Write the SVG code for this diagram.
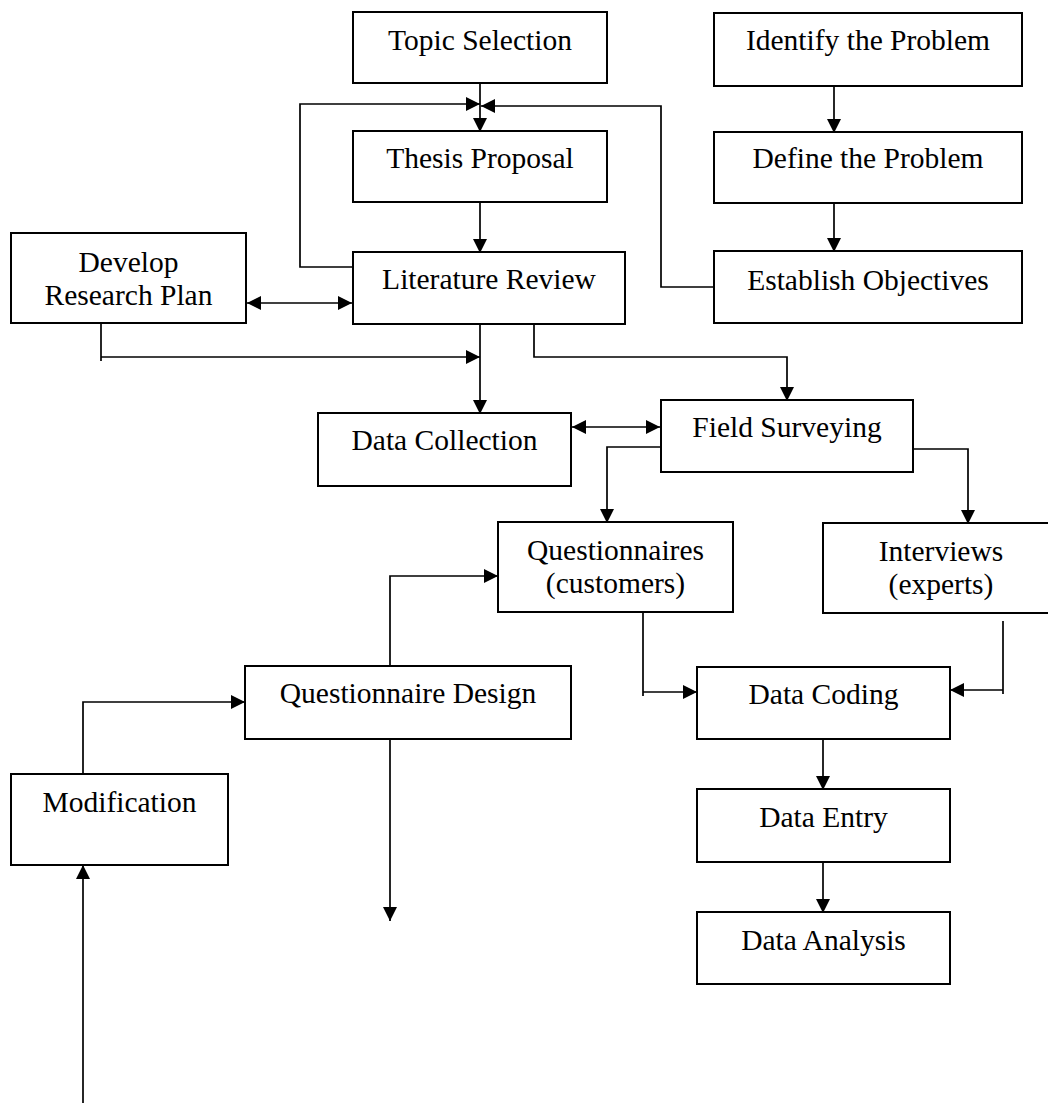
<svg xmlns="http://www.w3.org/2000/svg" width="1048" height="1103" viewBox="0 0 1048 1103">
  <defs>
    <marker id="arrow" markerUnits="userSpaceOnUse" markerWidth="15" markerHeight="14" refX="14" refY="7" orient="auto-start-reverse">
      <path d="M0,0 L14,7 L0,14 z" fill="#000"/>
    </marker>
    <style>
      .box rect { fill: #fff; stroke: #000; stroke-width: 2; }
      .box text { font-family: "Liberation Serif", "Times New Roman", serif; font-size: 29.5px; fill: #000; text-anchor: middle; }
      #connectors path { fill: none; stroke: #000; stroke-width: 1.7; }
      .arr { marker-end: url(#arrow); }
      .dbl { marker-start: url(#arrow); marker-end: url(#arrow); }
    </style>
  </defs>
  <rect width="1048" height="1103" fill="#fff"/>

  <!-- connectors -->
  <g id="connectors">
    <!-- Topic Selection -> Thesis Proposal -->
    <path class="arr" d="M480,83 V132"/>
    <!-- Literature Review feedback -> Thesis Proposal -->
    <path class="arr" d="M353,267 H300 V104 H480"/>
    <!-- Establish Objectives -> Thesis Proposal -->
    <path class="arr" d="M714,287 H661 V106 H481"/>
    <!-- Thesis Proposal -> Literature Review -->
    <path class="arr" d="M480,202 V253"/>
    <!-- Identify -> Define -> Establish -->
    <path class="arr" d="M834,86 V133"/>
    <path class="arr" d="M834,201 V252"/>
    <!-- Develop Research Plan <-> Literature Review -->
    <path class="dbl" d="M247,303 H352"/>
    <!-- Develop Research Plan -> Data Collection path -->
    <path d="M101,323 V361"/>
    <path class="arr" d="M101,357 H480"/>
    <!-- Literature Review -> Data Collection -->
    <path class="arr" d="M480,320 V414"/>
    <!-- Literature Review -> Field Surveying -->
    <path class="arr" d="M534,320 V357 H787 V401"/>
    <!-- Data Collection <-> Field Surveying -->
    <path class="dbl" d="M572,427 H660"/>
    <!-- Field Surveying -> Questionnaires / Interviews -->
    <path class="arr" d="M661,447 H607 V523"/>
    <path class="arr" d="M913,449 H968 V524"/>
    <!-- Questionnaires -> Data Coding -->
    <path d="M643,612 V696"/>
    <path class="arr" d="M643,692 H697"/>
    <!-- Interviews -> Data Coding -->
    <path d="M1003,621 V694"/>
    <path class="arr" d="M1003,690 H950"/>
    <!-- Questionnaire Design -> Questionnaires -->
    <path class="arr" d="M390,666 V576 H498"/>
    <!-- Modification -> Questionnaire Design -->
    <path class="arr" d="M83,774 V702 H245"/>
    <!-- Questionnaire Design downward -->
    <path class="arr" d="M390,739 V921"/>
    <!-- upward into Modification -->
    <path class="arr" d="M83,1103 V865"/>
    <!-- Data Coding -> Data Entry -> Data Analysis -->
    <path class="arr" d="M823,737 V790"/>
    <path class="arr" d="M823,862 V913"/>
  </g>

  <g id="topic-selection" class="box">
    <rect x="353" y="12" width="254" height="71"/>
    <text x="480" y="50">Topic Selection</text>
  </g>
  <g id="identify-problem" class="box">
    <rect x="714" y="13" width="308" height="73"/>
    <text x="868" y="50">Identify the Problem</text>
  </g>
  <g id="thesis-proposal" class="box">
    <rect x="353" y="131" width="254" height="71"/>
    <text x="480" y="168">Thesis Proposal</text>
  </g>
  <g id="define-problem" class="box">
    <rect x="714" y="132" width="308" height="71"/>
    <text x="868" y="168">Define the Problem</text>
  </g>
  <g id="develop-research-plan" class="box">
    <rect x="11" y="233" width="235" height="90"/>
    <text x="128.5" y="272">Develop</text>
    <text x="128.5" y="305">Research Plan</text>
  </g>
  <g id="literature-review" class="box">
    <rect x="353" y="252" width="272" height="72"/>
    <text x="489" y="289">Literature Review</text>
  </g>
  <g id="establish-objectives" class="box">
    <rect x="714" y="251" width="308" height="72"/>
    <text x="868" y="290">Establish Objectives</text>
  </g>
  <g id="data-collection" class="box">
    <rect x="318" y="413" width="253" height="73"/>
    <text x="444.5" y="450">Data Collection</text>
  </g>
  <g id="field-surveying" class="box">
    <rect x="661" y="400" width="252" height="72"/>
    <text x="787" y="437">Field Surveying</text>
  </g>
  <g id="questionnaires" class="box">
    <rect x="498" y="522" width="235" height="90"/>
    <text x="615.5" y="560">Questionnaires</text>
    <text x="615.5" y="593">(customers)</text>
  </g>
  <g id="interviews" class="box">
    <rect x="823" y="523" width="237" height="90"/>
    <text x="941" y="561">Interviews</text>
    <text x="941" y="594">(experts)</text>
  </g>
  <g id="questionnaire-design" class="box">
    <rect x="245" y="666" width="326" height="73"/>
    <text x="408" y="703">Questionnaire Design</text>
  </g>
  <g id="data-coding" class="box">
    <rect x="697" y="667" width="253" height="72"/>
    <text x="823.5" y="704">Data Coding</text>
  </g>
  <g id="modification" class="box">
    <rect x="11" y="774" width="217" height="91"/>
    <text x="119.5" y="812">Modification</text>
  </g>
  <g id="data-entry" class="box">
    <rect x="697" y="789" width="253" height="73"/>
    <text x="823.5" y="827">Data Entry</text>
  </g>
  <g id="data-analysis" class="box">
    <rect x="697" y="912" width="253" height="72"/>
    <text x="823.5" y="950">Data Analysis</text>
  </g>
</svg>
